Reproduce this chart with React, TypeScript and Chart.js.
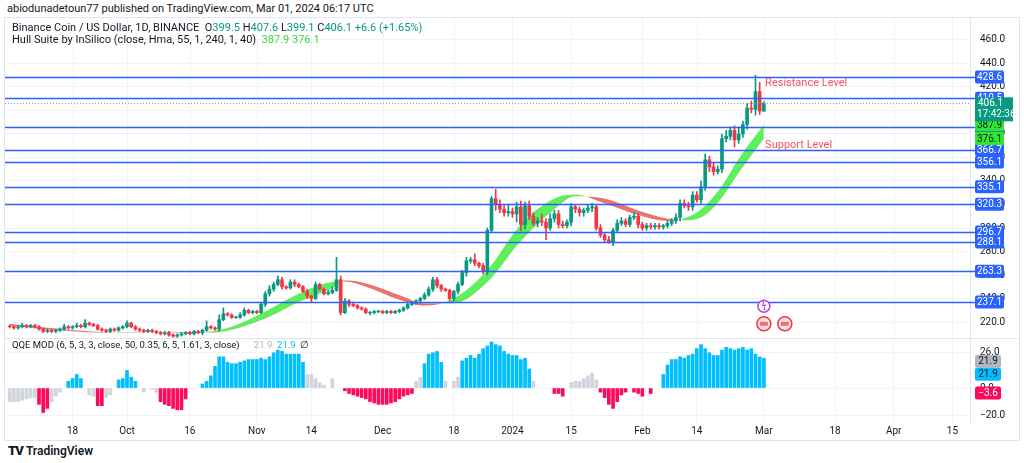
import React, { useEffect, useRef } from "react";
import { Chart, registerables } from "chart.js";
Chart.register(...registerables);

// ---------- DATA ----------
const startDay = 2; // day index 0 = 2023-09-01
const closes = [
  216,215,216,217,216,217,216, 214,212,213,212,213,214,216, 215,216,217,216,219,218,217,
  214,213,212,214,213,215,216, 219,216,214,213,212,213,212, 211,210,211,209,208,209,210,
  211,210,212,211,213,216,215, 214,222,227,226,224,224,226, 230,228,229,228,235,244,248,
  252,256,250,249,254,252,250, 246,242,240,252,248,244,245, 247,256,228,238,235,234,232,
  231,228,228,229,229,228,229, 228,229,230,232,235,236,238, 240,243,248,256,251,248,247,
  240,246,252,262,272,273,270, 268,263,298,325,320,316,313, 314,312,318,303,319,310,304,
  306,305,300,308,312,303,302, 305,318,316,313,315,317,318, 300,294,290,288,298,304,306,
  303,309,310,303,300,302,301, 302,301,302,304,306,309,321, 319,318,328,324,335,358,352,
  348,350,376,378,383,375,380, 388,402,401,416,399.5,406.1,
];
const firstOpen = 216.5;
const wickUp = [
  1,1,1,2,1,1,1, 1,1,1,1,1,1,2, 1,1,2,1,3,1,1, 1,1,1,1,1,1,1, 2,1,1,1,1,1,1, 1,1,1,1,1,1,1,
  1,1,1,1,1,5,1, 1,4,5,1,1,1,2, 2,1,1,1,2,2,3, 2,3,2,1,2,2,1, 1,2,1,2,1,1,2, 3,19,3,2,1,2,1,
  1,1,1,1,1,1,1, 1,1,1,1,2,1,1, 1,2,2,2,2,1,1, 1,1,2,2,3,2,5, 1,2,2,2,8,4,3, 6,3,4,5,3,4,3,
  3,6,3,4,3,3,3, 2,3,2,2,2,3,3, 2,3,2,3,2,3,3, 2,2,3,2,2,2,2, 2,2,1,2,2,3,3, 3,3,3,3,5,5,3,
  3,3,4,5,3,4,6, 3,4,6,14,8,1.5,
];
const wickDn = [
  1,1,1,1,1,1,1, 1,1,1,1,1,1,1, 1,1,1,1,1,1,1, 1,1,1,1,1,1,1, 1,1,1,1,1,1,1, 1,1,1,1,1,1,1,
  1,1,1,1,2,1,1, 1,2,1,1,1,1,1, 1,1,1,1,1,2,2, 2,1,2,1,1,2,1, 1,2,3,1,1,1,1, 1,1,2,1,2,1,1,
  1,1,2,1,1,1,1, 1,1,1,1,1,1,1, 1,1,1,2,2,2,1, 2,2,2,1,3,2,2, 2,2,3,2,5,3,3, 3,3,7,5,4,3,2,
  3,3,10,2,3,3,2, 2,3,3,3,3,2,3, 2,2,2,1,3,2,2, 2,2,2,3,2,2,2, 2,2,2,2,2,2,3, 2,3,3,2,3,3,4,
  3,2,3,3,3,6,3, 3,4,3,5,3,0.4,
];

const hullDays = [2,10,18,24,30,36,42,46,50,55,63,71,79,82,87,95,101,108,116,124,132,137,144,152,159,164,168,172,176,182];
const hullMain = [217,214,212,211,211.5,211.8,211,210.5,212,216,229,244,254,254.5,250,239,234,240,264,303,325,328.5,321,311,306,309.5,319,336,359,387.9];
const hullLag  = [218.5,215.5,213,211.5,211,211.6,211.8,211.4,211,213.5,223,237,249,255.5,253,243,236,236,254,289,316,327,325,315,308,306.5,311,326,347,376.1];

const levels = [428.6,410.5,386.1,366.7,356.1,335.1,320.3,296.7,288.1,263.3,237.1];
const lastPrice = 406.1;

// QQE: values from day 2 ; code g=gray b=blue p=pink
const qqeVals: (number|null)[] = [
  -10,-10,-10,-9,-8,-7,-7, -12,-18,-15, -10,-6,-3, null, 5,7,10,7, null,
  -5,-6,-13,-13,-7,-5, null, 6,7,13,8,5, null,-3,null,-1,-3,
  -10,-12,-13,-15,-16,-16,-8, null,null,null,
  3,5,9,16,23,23,19,18,18,19,20,21,21,21,22,21,23,26,28,27,25,25,25,25,19,
  10,10,7,4,2, null,7,null,null,
  -2,-4,-5,-6,-7,-8,-10,-11,-12,-12,-12,-11,-10,-8,-6,-5,-4,
  5,8, 18,25,26,27,19, 5,null,5,8,
  20,22,24,22,25,29,31,34,32,31,27,25,24,24,21,22,14,
  5, null,null,null,null, -4,-4,-6, null, 4,5,5,7,9,11,6,
  -3,-7,-12,-15,-10,-5,-3, null, -3,-4,-6, null,-4, null,null,
  10,17,21,21,23,22,24,25,29,32,29,26,24,24,28,30,29,28,29,30,28,29,25,23,21.9,
];
const qqeCodes =
  "ggggggg"+"ppp"+"ggg"+"g"+"bbbb"+"g"+"ggppgg"+"g"+"bbbbb"+"ggggg"+"ppppppp"+"ggg"+
  "bbbbbbbbbbbbbbbbbbbbbbbbb"+"ggggg"+"gggg"+"ppppppppppppppppp"+"gg"+"bbbbb"+"gggg"+
  "bbbbbbbbbbbbbbbbb"+"g"+"gggg"+"ppp"+"g"+"ggggggg"+"ppppppp"+"g"+"ppp"+"gp"+"gg"+
  "bbbbbbbbbbbbbbbbbbbbbbbbb";

const tickDays = [17,30,45,61,74,91,108,122,136,153,166,182,199,213,227];
const tickLabels = ["18","Oct","16","Nov","14","Dec","18","2024","15","Feb","14","Mar","18","Apr","15"];

const X_MIN = 0.88, X_MAX = 231.2;
const GREEN = "#089981", RED = "#f23645", BLUE = "#2962ff";
const FONT = "Roboto, 'Noto Sans', sans-serif";

function box(ctx: CanvasRenderingContext2D, x: number, y: number, text: string, bg: string, fg: string, w = 29, h = 13) {
  ctx.fillStyle = bg;
  ctx.beginPath();
  (ctx as any).roundRect ? (ctx as any).roundRect(x, y - h / 2, w, h, 2) : ctx.rect(x, y - h / 2, w, h);
  ctx.fill();
  ctx.fillStyle = fg;
  ctx.font = `10px ${FONT}`;
  ctx.textAlign = "center";
  ctx.textBaseline = "middle";
  ctx.fillText(text, x + w / 2, y + 0.5);
}

const xScaleBase = (showTicks: boolean) => ({
  type: "linear" as const,
  display: showTicks,
  min: X_MIN,
  max: X_MAX,
  offset: false,
  afterBuildTicks: (s: any) => { s.ticks = tickDays.map((v) => ({ value: v })); },
  ticks: {
    autoSkip: false,
    maxRotation: 0,
    padding: 3,
    color: "#131722",
    font: { size: 10, family: FONT },
    callback: (v: any) => { const i = tickDays.indexOf(Number(v)); return i >= 0 ? tickLabels[i] : ""; },
  },
  grid: { color: "#f0f3fa", drawTicks: false, offset: false },
  border: { display: false },
});

// force the plot area to fixed pixel bounds
const fixArea = (top: number, bottom: number) => ({
  id: "fixArea",
  afterLayout(chart: any) {
    const W = chart.width, right = W - 48;
    const a = chart.chartArea;
    a.left = 0; a.right = right; a.top = top; a.bottom = bottom;
    a.width = right; a.height = bottom - top;
    const x = chart.scales.x, y = chart.scales.y;
    x.left = 0; x.right = right; x.width = right; x.top = bottom; x.bottom = chart.height; x.height = chart.height - bottom;
    y.left = right; y.right = W; y.width = 48; y.top = top; y.bottom = bottom; y.height = bottom - top;
    x.configure(); y.configure();
  },
});

const vGrid = {
  id: "vGrid",
  beforeDatasetsDraw(chart: any) {
    const { ctx, chartArea: a, scales } = chart;
    if (scales.x.options.display) return;
    ctx.save();
    ctx.strokeStyle = "#f0f3fa"; ctx.lineWidth = 1;
    tickDays.forEach((d) => {
      const px = Math.round(scales.x.getPixelForValue(d)) + 0.5;
      ctx.beginPath(); ctx.moveTo(px, a.top); ctx.lineTo(px, a.bottom); ctx.stroke();
    });
    ctx.restore();
  },
};

export default function App() {
  const mainRef = useRef<HTMLCanvasElement>(null);
  const qqeRef = useRef<HTMLCanvasElement>(null);

  useEffect(() => {
    const opens: number[] = closes.map((_, i) => (i === 0 ? firstOpen : closes[i - 1]));
    const days = closes.map((_, i) => startDay + i);
    const colors = closes.map((c, i) => (c >= opens[i] ? GREEN : RED));
    const wicks = closes.map((c, i) => ({ x: days[i], y: [Math.min(c, opens[i]) - wickDn[i], Math.max(c, opens[i]) + wickUp[i]] }));
    const bodies = closes.map((c, i) => {
      let lo = Math.min(c, opens[i]), hi = Math.max(c, opens[i]);
      if (hi - lo < 0.5) { hi += 0.3; lo -= 0.3; }
      return { x: days[i], y: [lo, hi] };
    });

    const mainPlugin = {
      id: "mainDeco",
      afterDatasetsDraw(chart: any) {
        const { ctx, chartArea: a, scales } = chart;
        const y = scales.y, x = scales.x;
        ctx.save();
        ctx.strokeStyle = BLUE; ctx.lineWidth = 1.5;
        levels.forEach((l) => {
          const py = Math.round(y.getPixelForValue(l)) + 0.5;
          ctx.beginPath(); ctx.moveTo(a.left, py); ctx.lineTo(a.right + 5, py); ctx.stroke();
        });
        ctx.setLineDash([1, 2]); ctx.strokeStyle = "#7d9fd6"; ctx.lineWidth = 1;
        const lp = Math.round(y.getPixelForValue(lastPrice)) + 0.5;
        ctx.beginPath(); ctx.moveTo(a.left, lp); ctx.lineTo(a.right, lp); ctx.stroke();
        ctx.setLineDash([]);
        ctx.fillStyle = "#f7525f"; ctx.font = `11px ${FONT}`; ctx.textAlign = "left"; ctx.textBaseline = "middle";
        ctx.fillText("Resistance Level", x.getPixelForValue(182.3), y.getPixelForValue(423));
        ctx.fillText("Support Level", x.getPixelForValue(182.3), y.getPixelForValue(370));
        const ix = x.getPixelForValue(182);
        ctx.lineWidth = 1.5;
        ctx.strokeStyle = "#b04bd8"; ctx.fillStyle = "#fff";
        ctx.beginPath(); ctx.arc(ix, y.getPixelForValue(233.5), 6, 0, Math.PI * 2); ctx.fill(); ctx.stroke();
        ctx.fillStyle = "#b04bd8"; ctx.font = `bold 8px ${FONT}`; ctx.textAlign = "center";
        ctx.fillText("ϟ", ix, y.getPixelForValue(233.5));
        [182, 187].forEach((d) => {
          const cx = x.getPixelForValue(d), cy = y.getPixelForValue(218.5);
          ctx.strokeStyle = "#f23645"; ctx.fillStyle = "#fbe3e5";
          ctx.beginPath(); ctx.arc(cx, cy, 7, 0, Math.PI * 2); ctx.fill(); ctx.stroke();
          ctx.fillStyle = "#e57373"; ctx.fillRect(cx - 4, cy - 2, 8, 4);
        });
        ctx.restore();
      },
      afterDraw(chart: any) {
        const { ctx, chartArea: a, scales } = chart;
        const y = scales.y;
        const bx = a.right + 5;
        ctx.save();
        levels.forEach((l) => box(ctx, bx, y.getPixelForValue(l), l.toFixed(1), BLUE, "#fff"));
        box(ctx, bx, y.getPixelForValue(hullMain[hullMain.length - 1]), "387.9", "#2ee82e", "#131722");
        box(ctx, bx, y.getPixelForValue(hullLag[hullLag.length - 1]), "376.1", "#2ee82e", "#131722");
        const py = y.getPixelForValue(lastPrice);
        ctx.fillStyle = GREEN; ctx.fillRect(bx, py - 6, 38, 24);
        ctx.fillStyle = "#fff"; ctx.font = `10px ${FONT}`; ctx.textAlign = "left"; ctx.textBaseline = "middle";
        ctx.fillText("406.1", bx + 3, py);
        ctx.fillText("17:42:36", bx + 2, py + 11);
        ctx.restore();
      },
    };

    const main = new Chart(mainRef.current!, {
      type: "bar",
      data: {
        datasets: [
          {
            type: "line", data: hullDays.map((d, i) => ({ x: d, y: hullMain[i] })),
            borderColor: "rgba(0,0,0,0)", borderWidth: 0, pointRadius: 0, cubicInterpolationMode: "monotone",
            fill: { target: "+1", above: "#5cf05c", below: "#f07070" }, order: 2,
          } as any,
          {
            type: "line", data: hullDays.map((d, i) => ({ x: d, y: hullLag[i] })),
            borderColor: "rgba(0,0,0,0)", borderWidth: 0, pointRadius: 0, cubicInterpolationMode: "monotone", fill: false, order: 2,
          } as any,
          { type: "bar", data: wicks as any, backgroundColor: colors, barThickness: 1, grouped: false, order: 1 } as any,
          { type: "bar", data: bodies as any, backgroundColor: colors, barThickness: 3, grouped: false, order: 0 } as any,
        ],
      },
      options: {
        responsive: false, animation: false,
        layout: { padding: 0, autoPadding: false },
        plugins: { legend: { display: false }, tooltip: { enabled: false } },
        scales: {
          x: xScaleBase(false) as any,
          y: {
            position: "right", min: 206.4, max: 478.7,
            afterBuildTicks: (s: any) => { const t = []; for (let v = 220; v <= 460; v += 20) t.push({ value: v }); s.ticks = t; },
            ticks: { color: "#131722", font: { size: 10, family: FONT }, padding: 10, callback: (v: any) => Number(v).toFixed(1) },
            grid: { color: "#f0f3fa", drawTicks: false },
            border: { display: true, color: "#e0e3eb" },
          } as any,
        },
      },
      plugins: [fixArea(0, 320), vGrid, mainPlugin],
    });

    const qx: number[] = [], qv: number[] = [], qc: string[] = [];
    qqeVals.forEach((v, i) => {
      if (v === null) return;
      qx.push(startDay + i); qv.push(v);
      const c = qqeCodes[i];
      qc.push(c === "b" ? "#00bfff" : c === "p" ? "#ff0a5a" : "#d1d4dc");
    });
    const qqePlugin = {
      id: "qqeDeco",
      afterDraw(chart: any) {
        const { ctx, chartArea: a, scales } = chart;
        const y = scales.y, bx = a.right + 5;
        ctx.save();
        box(ctx, bx, y.getPixelForValue(21.9) + 3, "21.9", "#b2b5be", "#131722", 26);
        box(ctx, bx, y.getPixelForValue(21.9) + 16, "21.9", "#00bfff", "#131722", 26);
        box(ctx, bx, y.getPixelForValue(-3.6), "−3.6", "#ff0a5a", "#fff", 26);
        ctx.restore();
      },
    };
    const qqe = new Chart(qqeRef.current!, {
      type: "bar",
      data: {
        datasets: [{ data: qx.map((d, i) => ({ x: d, y: qv[i] })) as any, backgroundColor: qc, barThickness: 3 }],
      },
      options: {
        responsive: false, animation: false,
        layout: { padding: 0, autoPadding: false },
        plugins: { legend: { display: false }, tooltip: { enabled: false } },
        scales: {
          x: xScaleBase(true) as any,
          y: {
            position: "right", min: -25, max: 35.4,
            afterBuildTicks: (s: any) => { s.ticks = [26, 0, -20].map((v) => ({ value: v })); },
            ticks: { color: "#131722", font: { size: 10, family: FONT }, padding: 10, callback: (v: any) => Number(v).toFixed(1).replace("-", "−") },
            grid: { color: "#f0f3fa", drawTicks: false },
            border: { display: true, color: "#e0e3eb" },
          } as any,
        },
      },
      plugins: [fixArea(1, 83), qqePlugin],
    });

    return () => { main.destroy(); qqe.destroy(); };
  }, []);

  const txt: React.CSSProperties = { position: "absolute", fontSize: 11, color: "#131722", whiteSpace: "nowrap", fontFamily: FONT };
  const g = { color: GREEN };
  return (
    <div style={{ position: "absolute", left: 0, top: 0, width: 1024, height: 463, background: "#fff", overflow: "hidden", fontFamily: FONT }}>
      <div style={{ ...txt, left: 7, top: 2 }}>abiodunadetoun77 published on TradingView.com, Mar 01, 2024 06:17 UTC</div>
      <div style={{ position: "absolute", left: 4, top: 17, width: 1014, height: 422, border: "1px solid #e0e3eb" }} />
      <canvas ref={mainRef} width={1013} height={320} style={{ position: "absolute", left: 5, top: 18 }} />
      <div style={{ position: "absolute", left: 5, top: 338, width: 1013, height: 1, background: "#e0e3eb" }} />
      <canvas ref={qqeRef} width={1013} height={101} style={{ position: "absolute", left: 5, top: 339 }} />
      <div style={{ ...txt, left: 12, top: 21 }}>
        Binance Coin / US Dollar, 1D, BINANCE&nbsp; O<span style={g}>399.5</span> H<span style={g}>407.6</span> L<span style={g}>399.1</span> C<span style={g}>406.1</span> <span style={g}>+6.6 (+1.65%)</span>
      </div>
      <div style={{ ...txt, left: 12, top: 33 }}>
        Hull Suite by InSilico (close, Hma, 55, 1, 240, 1, 40)&nbsp; <span style={{ color: "#3fd43f" }}>387.9</span> <span style={{ color: "#3fd43f" }}>376.1</span>
      </div>
      <div style={{ ...txt, left: 12, top: 339, fontSize: 9.5 }}>
        QQE MOD (6, 5, 3, 3, close, 50, 0.35, 6, 5, 1.61, 3, close)&nbsp;&nbsp;&nbsp;&nbsp;&nbsp;&nbsp;<span style={{ color: "#b2b5be" }}>21.9</span>&nbsp;&nbsp;<span style={{ color: "#00bfff" }}>21.9</span>&nbsp;&nbsp;∅
      </div>
      <div style={{ ...txt, left: 8, top: 443, fontSize: 12, fontWeight: 600 }}>
        <span style={{ fontWeight: 900, fontSize: 13, letterSpacing: -1 }}>TV</span>&nbsp;TradingView
      </div>
    </div>
  );
}
